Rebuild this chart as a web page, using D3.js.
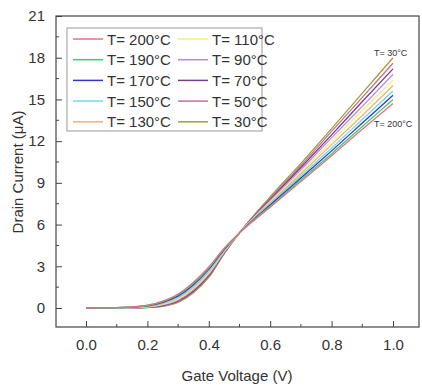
<!DOCTYPE html>
<html>
<head>
<meta charset="utf-8">
<script src="https://cdn.jsdelivr.net/npm/d3@7"></script>
<style>
  body { margin: 0; background: #fff; }
  text { font-family: "Liberation Sans", Arial, sans-serif; fill: #333; }
</style>
</head>
<body>
<script>
// Gate voltage sample points (V)
let gateVoltage = [0, 0.05, 0.1, 0.15, 0.2, 0.25, 0.3, 0.35, 0.4, 0.45, 0.5, 0.55, 0.6, 0.7, 0.8, 0.9, 1.0];

// Drain current (uA) for each temperature
let t200 = [0, 0.01, 0.03, 0.08, 0.2, 0.5, 1.0, 1.85, 2.95, 4.3, 5.4, 6.35, 7.25, 9.1, 10.95, 12.85, 14.7];
let t190 = [0, 0.01, 0.03, 0.07, 0.18, 0.46, 0.95, 1.78, 2.88, 4.25, 5.4, 6.4, 7.32, 9.22, 11.1, 13.05, 15.0];
let t170 = [0, 0.01, 0.02, 0.06, 0.15, 0.41, 0.87, 1.68, 2.8, 4.2, 5.4, 6.44, 7.4, 9.35, 11.3, 13.3, 15.3];
let t150 = [0, 0, 0.02, 0.05, 0.13, 0.36, 0.8, 1.58, 2.71, 4.15, 5.4, 6.48, 7.48, 9.5, 11.5, 13.55, 15.6];
let t130 = [0, 0, 0.01, 0.04, 0.1, 0.31, 0.72, 1.49, 2.62, 4.1, 5.4, 6.52, 7.56, 9.65, 11.75, 13.85, 16.0];
let t110 = [0, 0, 0.01, 0.03, 0.08, 0.26, 0.64, 1.4, 2.52, 4.05, 5.4, 6.56, 7.64, 9.8, 12.0, 14.2, 16.4];
let t90  = [0, 0, 0.01, 0.02, 0.06, 0.22, 0.57, 1.31, 2.43, 4.0, 5.4, 6.6, 7.72, 9.95, 12.25, 14.5, 16.8];
let t70  = [0, 0, 0, 0.02, 0.05, 0.18, 0.51, 1.23, 2.35, 3.97, 5.4, 6.65, 7.8, 10.1, 12.45, 14.85, 17.2];
let t50  = [0, 0, 0, 0.01, 0.04, 0.15, 0.45, 1.16, 2.27, 3.93, 5.4, 6.7, 7.9, 10.25, 12.7, 15.15, 17.6];
let t30  = [0, 0, 0, 0.01, 0.03, 0.12, 0.4, 1.1, 2.2, 3.9, 5.4, 6.75, 8.0, 10.4, 12.9, 15.45, 18.0];

let labels = ["T= 200°C", "T= 190°C", "T= 170°C", "T= 150°C", "T= 130°C",
              "T= 110°C", "T= 90°C", "T= 70°C", "T= 50°C", "T= 30°C"];
let values = [t200, t190, t170, t150, t130, t110, t90, t70, t50, t30];
let colors = ["#e8707c", "#40c878", "#3434c4", "#66e0e8", "#e8b47c",
              "#f2ee78", "#b488e0", "#7c3c8c", "#c07494", "#a0a038"];

let xTicks = [0, 0.2, 0.4, 0.6, 0.8, 1.0];
let yTicks = [0, 3, 6, 9, 12, 15, 18, 21];

let width = 422;
let height = 387;

// plot frame
let frame = { left: 56, right: 419, top: 16, bottom: 327 };

let svg = d3.select("body")
  .append("svg")
  .attr("width", width)
  .attr("height", height);

let x = d3.scaleLinear().domain([0, 1]).range([86, 393]);
let y = d3.scaleLinear().domain([0, 21]).range([308, 16]);

// curves
let line = d3.line()
  .x((d, i) => x(gateVoltage[i]))
  .y(d => y(d))
  .curve(d3.curveMonotoneX);

// draw low temperatures first so hot ones sit on top in the subthreshold part
let order = d3.range(values.length).reverse();
svg.append("g")
  .selectAll("path")
  .data(order)
  .enter()
  .append("path")
  .attr("d", i => line(values[i]))
  .attr("fill", "none")
  .attr("stroke", i => colors[i])
  .attr("stroke-width", 1.3);

// frame
svg.append("rect")
  .attr("x", frame.left)
  .attr("y", frame.top)
  .attr("width", frame.right - frame.left)
  .attr("height", frame.bottom - frame.top)
  .attr("fill", "none")
  .attr("stroke", "#444")
  .attr("stroke-width", 1.2);

// x axis (ticks inward)
let xAxis = d3.axisBottom(x)
  .tickValues(xTicks)
  .tickFormat(d3.format(".1f"))
  .tickSize(-6)
  .tickPadding(12);
let gx = svg.append("g")
  .attr("transform", `translate(0, ${frame.bottom})`)
  .call(xAxis);
gx.select(".domain").remove();
gx.selectAll("line").attr("stroke", "#444");
gx.selectAll("text").style("font-size", "15px").attr("fill", "#333");

let xMinor = d3.range(0.1, 1.0, 0.2);
svg.append("g")
  .selectAll("line")
  .data(xMinor)
  .enter()
  .append("line")
  .attr("x1", d => x(d)).attr("x2", d => x(d))
  .attr("y1", frame.bottom).attr("y2", frame.bottom - 3)
  .attr("stroke", "#444");

// y axis (ticks inward)
let yAxis = d3.axisLeft(y)
  .tickValues(yTicks)
  .tickSize(-6)
  .tickPadding(11);
let gy = svg.append("g")
  .attr("transform", `translate(${frame.left}, 0)`)
  .call(yAxis);
gy.select(".domain").remove();
gy.selectAll("line").attr("stroke", "#444");
gy.selectAll("text").style("font-size", "15px").attr("fill", "#333");

let yMinor = d3.range(1.5, 21, 3);
svg.append("g")
  .selectAll("line")
  .data(yMinor)
  .enter()
  .append("line")
  .attr("x1", frame.left).attr("x2", frame.left + 3)
  .attr("y1", d => y(d)).attr("y2", d => y(d))
  .attr("stroke", "#444");

// axis titles
svg.append("text")
  .attr("x", 237)
  .attr("y", 381)
  .style("text-anchor", "middle")
  .style("font-size", "15px")
  .text("Gate Voltage (V)");

svg.append("text")
  .attr("transform", "translate(23, 172) rotate(-90)")
  .style("text-anchor", "middle")
  .style("font-size", "15px")
  .text("Drain Current (μA)");

// legend
let legend = svg.append("g");
legend.append("rect")
  .attr("x", 67).attr("y", 28)
  .attr("width", 195).attr("height", 103)
  .attr("fill", "#fff")
  .attr("stroke", "#999")
  .attr("stroke-width", 1);

let rowH = 20.7;
let items = legend.selectAll("g.item")
  .data(labels)
  .enter()
  .append("g")
  .attr("class", "item")
  .attr("transform", (d, i) => {
    let col = Math.floor(i / 5);
    let row = i % 5;
    return `translate(${col === 0 ? 73 : 178}, ${39 + row * rowH})`;
  });
items.append("line")
  .attr("x1", 0).attr("x2", 30)
  .attr("y1", 0).attr("y2", 0)
  .attr("stroke", (d, i) => colors[i])
  .attr("stroke-width", 1.5);
items.append("text")
  .attr("x", 34)
  .attr("y", 5.5)
  .style("font-size", "15px")
  .text(d => d);

// annotations at the curve ends
svg.append("text")
  .attr("x", 374).attr("y", 56)
  .style("font-size", "9px")
  .text("T= 30°C");
svg.append("text")
  .attr("x", 374).attr("y", 127)
  .style("font-size", "9px")
  .text("T= 200°C");
</script>
</body>
</html>
